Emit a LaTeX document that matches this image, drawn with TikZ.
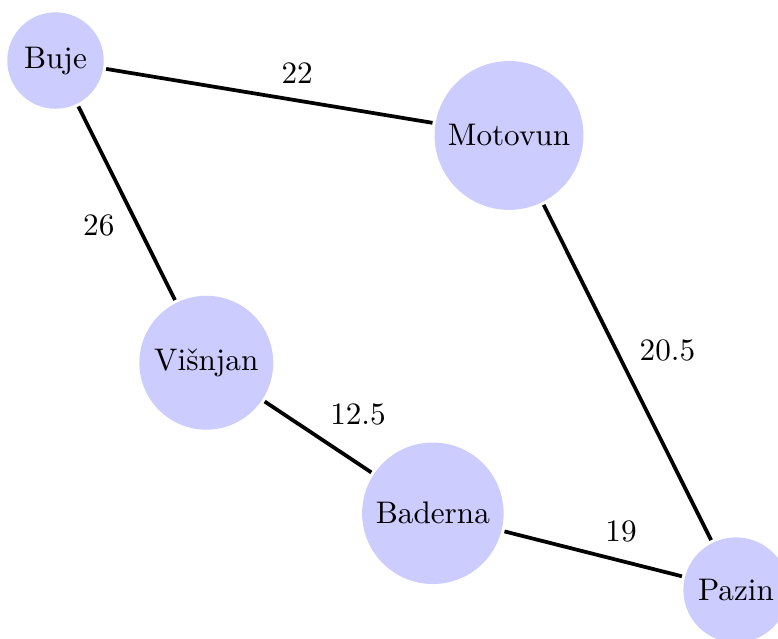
\documentclass[tikz,border=0pt]{standalone}
\usepackage{amsmath}
\usepackage{tikz}

\begin{document}
\begin{tikzpicture}[town/.style={circle,fill=blue!20,outer sep=1pt},
	road/.style={very thick}]
	\useasboundingbox (0,0) rectangle (8.764,-7.198);
	\node[town] (Bu) at (0.625,-0.682) {Buje};
	\node[town] (Mo) at (5.734,-1.526) {Motovun};
	\node[town] (Vi) at (2.324,-4.086) {Vi\v{s}njan};
	\node[town] (Ba) at (4.876,-5.782) {Baderna};
	\node[town] (Pa) at (8.291,-6.646) {Pazin};
	\draw[road] (Bu) -- node[midway,above right] {$22$} (Mo);
	\draw[road] (Bu) -- node[midway,below left] {$26$} (Vi);
	\draw[road] (Mo) -- node[midway,above right] {$20.5$} (Pa);
	\draw[road] (Vi) -- node[midway,above right] {$12.5$} (Ba);
	\draw[road] (Ba) -- node[midway,above right] {$19$} (Pa);
\end{tikzpicture}
\end{document}
